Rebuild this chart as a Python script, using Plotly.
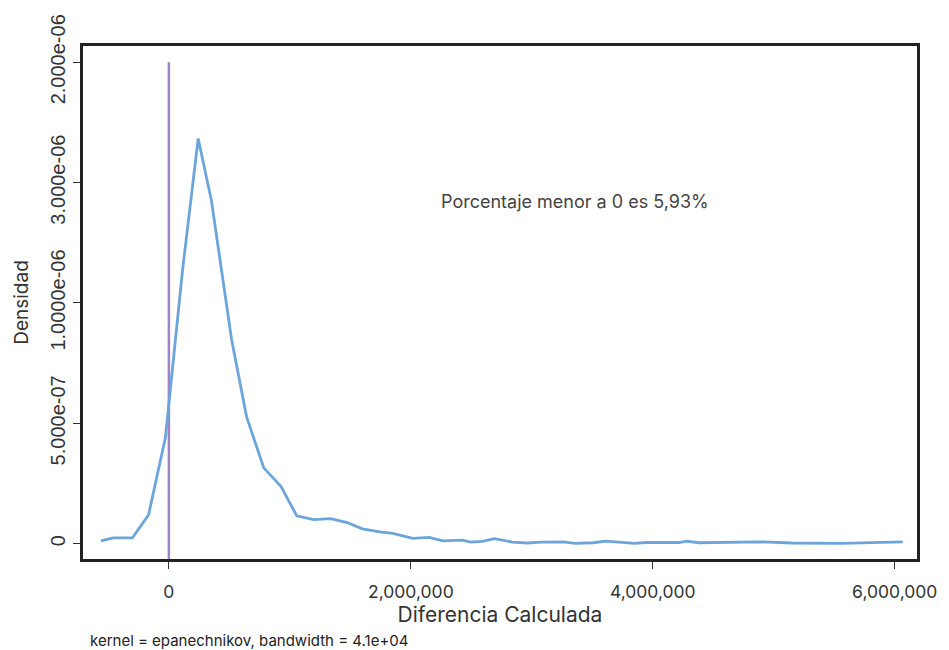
import plotly.graph_objects as go

# Density curve vertices (x: Diferencia Calculada, y: Densidad)
x_vals = [-562000, -461000, -302000, -168000, -29000, 113000, 242000, 351000, 519000, 642000,
          784000, 926000, 1057000, 1197000, 1337000, 1474000, 1599000, 1742000, 1851000, 2016000,
          2153000, 2262000, 2426000, 2494000, 2590000, 2691000, 2837000, 2960000, 3083000, 3261000,
          3356000, 3507000, 3611000, 3726000, 3849000, 3945000, 4218000, 4279000, 4383000, 4875000,
          5149000, 5560000, 5943000, 6066000]
y_vals = [1.2e-8, 2.4e-8, 2.4e-8, 1.2e-7, 4.4e-7, 1.137e-6, 1.683e-6, 1.427e-6, 8.46e-7, 5.28e-7,
          3.15e-7, 2.38e-7, 1.16e-7, 1.0e-7, 1.04e-7, 8.8e-8, 6.2e-8, 4.9e-8, 4.3e-8, 2.2e-8,
          2.6e-8, 1.2e-8, 1.5e-8, 7e-9, 1.0e-8, 2.1e-8, 7e-9, 3e-9, 7e-9, 8e-9,
          1e-9, 4e-9, 1.1e-8, 7e-9, 1e-9, 5e-9, 5e-9, 1.1e-8, 4e-9, 8e-9,
          3e-9, 1e-9, 4e-9, 8e-9]

# Reference line at zero difference
vline_x = 0
vline_top = 2e-6

x_range = [-710000, 6184000]
y_range = [-6.35e-8, 2.0676e-6]

x_tickvals = [0, 2000000, 4000000, 6000000]
x_ticktext = ["0", "2,000,000", "4,000,000", "6,000,000"]
y_tickvals = [0, 5e-7, 1e-6, 1.5e-6, 2e-6]
y_ticktext = ["0", "5.000e-07", "1.0000e-06", "3.000e-06", "2.000e-06"]

annotation_text = "Porcentaje menor a 0 es 5,93%"
annotation_pos = (3354000, 1.42e-6)
subtitle_text = "kernel = epanechnikov, bandwidth = 4.1e+04"

fig = go.Figure()
fig.add_trace(go.Scatter(x=[vline_x, vline_x], y=[y_range[0], vline_top], mode="lines",
                         line=dict(color="#9D85C3", width=2.5), hoverinfo="skip", showlegend=False))
fig.add_trace(go.Scatter(x=x_vals, y=y_vals, mode="lines",
                         line=dict(color="#6CA5DC", width=2.8), showlegend=False))

fig.add_annotation(x=annotation_pos[0], y=annotation_pos[1], text=annotation_text, showarrow=False,
                   font=dict(family="Inter", size=18, color="#444444"), xanchor="center", yanchor="middle")
fig.add_annotation(x=0, xref="paper", xshift=5, y=-0.158, yref="paper", yanchor="middle", xanchor="left",
                   text=subtitle_text, showarrow=False, font=dict(family="Inter", size=15, color="#222222"))

fig.update_layout(
    width=949, height=650,
    margin=dict(l=83, r=26, t=46, b=91),
    plot_bgcolor="white", paper_bgcolor="white",
    font=dict(family="Inter", color="#222222"),
)
fig.update_xaxes(range=x_range, tickvals=x_tickvals, ticktext=x_ticktext, showgrid=False, zeroline=False,
                 showline=True, mirror=True, linecolor="#222222", linewidth=2.5,
                 ticks="outside", ticklen=7, tickwidth=1.2, tickcolor="#333333",
                 ticklabelstandoff=8,
                 tickfont=dict(family="Inter", size=17.5, color="#333333"),
                 title=dict(text="Diferencia Calculada", font=dict(family="Inter", size=21, color="#333333"), standoff=7))
fig.update_yaxes(range=y_range, tickvals=y_tickvals, ticktext=y_ticktext, showgrid=False, zeroline=False,
                 showline=True, mirror=True, linecolor="#222222", linewidth=2.5,
                 ticks="outside", ticklen=7, tickwidth=1.2, tickcolor="#333333", tickangle=-90,
                 tickfont=dict(family="Liberation Sans", size=20, color="#333333"),
                 title=dict(text="Densidad", font=dict(family="Inter", size=19, color="#333333"), standoff=14))

fig.write_html("out.html")
